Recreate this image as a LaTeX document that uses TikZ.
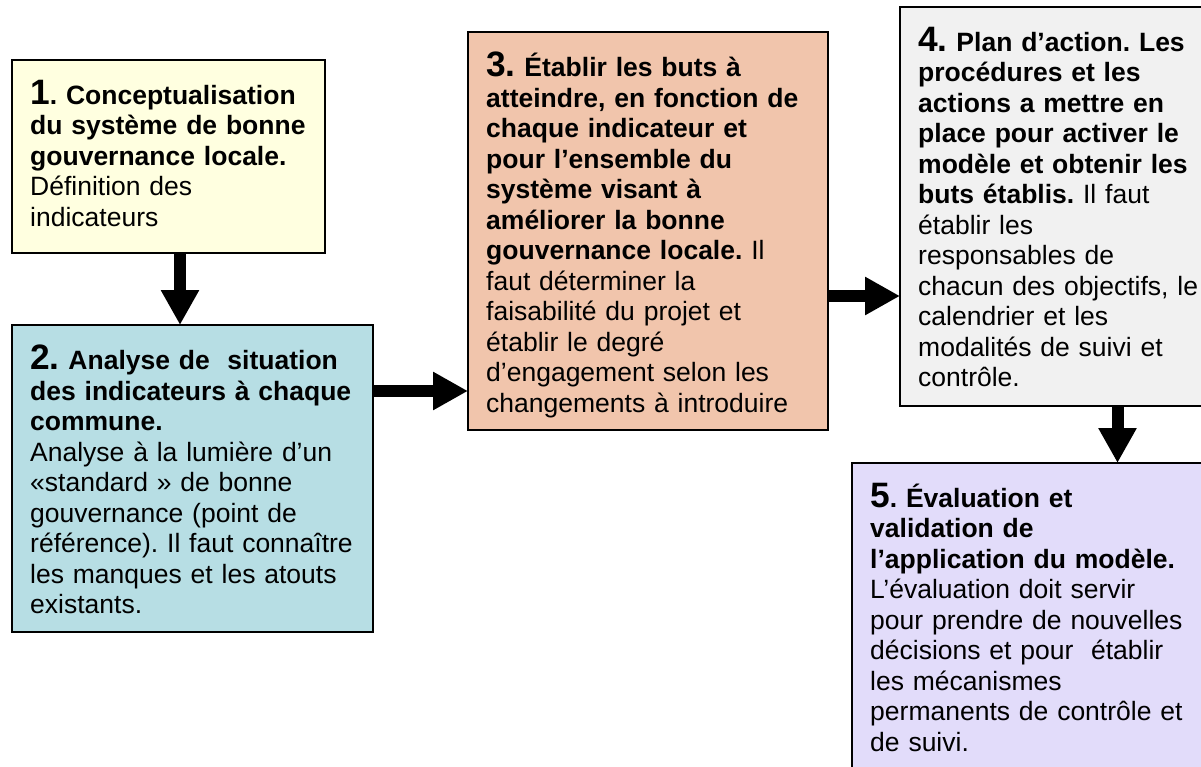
\documentclass[tikz,border=0pt]{standalone}
\usepackage{fontspec}
\setmainfont{Liberation Sans}
\usetikzlibrary{arrows.meta}
\frenchspacing
\definecolor{yellowbox}{RGB}{255,255,224}
\definecolor{tealbox}{RGB}{183,222,228}
\definecolor{salmonbox}{RGB}{241,197,172}
\definecolor{greybox}{RGB}{241,241,241}
\definecolor{lilacbox}{RGB}{226,220,250}
\newcommand{\bodyfont}{\fontsize{26.5}{30.5}\selectfont\frenchspacing}
\newcommand{\bignum}[1]{{\fontsize{35.3}{40.6}\selectfont #1}}
\tikzstyle{block} = [rectangle, 
draw=black, 
line width=1.8pt, 
anchor=north west, 
inner sep=0pt, 
outer sep=0pt]
\tikzstyle{txt} = [anchor=north west, 
align=left, 
inner xsep=18pt, 
inner ysep=19.7pt, 
font=\bodyfont]
\tikzstyle{arrow} = [line width=12pt, -{Triangle[width=36pt, length=35pt]}]
\begin{document}
\begin{tikzpicture}[x=1pt, y=-1pt]
		\clip (0,0) rectangle (1201,767);
		\node (concept) [block, fill=yellowbox, minimum width=313pt, minimum height=193pt] at (12,60) {};
		\node (analyse) [block, fill=tealbox, minimum width=361pt, minimum height=307pt] at (12,325) {};
		\node (buts) [block, fill=salmonbox, minimum width=360pt, minimum height=398pt] at (468,32) {};
		\node (plan) [block, fill=greybox, minimum width=320pt, minimum height=399pt] at (900,7) {};
		\node (eval) [block, fill=lilacbox, minimum width=370pt, minimum height=330pt] at (852,463) {};
	
		\node (concepttxt) [txt, text width=290pt] at (concept.north west) {\textbf{\bignum{1}. Conceptualisation}\\
			\textbf{du système de bonne}\\
			\textbf{gouvernance locale.}\\
			Définition des\\
			indicateurs};
		\node (analysetxt) [txt, text width=340pt] at (analyse.north west) {\textbf{\bignum{2.} Analyse de~ situation}\\
			\textbf{des indicateurs à chaque}\\
			\textbf{commune.}\\
			Analyse à la lumière d’un\\
			«standard » de bonne\\
			gouvernance (point de\\
			référence). Il faut connaître\\
			les manques et les atouts\\
			existants.};
		\node (butstxt) [txt, text width=340pt] at (buts.north west) {\textbf{\bignum{3.} Établir les buts à}\\
			\textbf{atteindre, en fonction de}\\
			\textbf{chaque indicateur et}\\
			\textbf{pour l’ensemble du}\\
			\textbf{système visant à}\\
			\textbf{améliorer la bonne}\\
			\textbf{gouvernance locale.} Il\\
			faut déterminer la\\
			faisabilité du projet et\\
			établir le degré\\
			d’engagement selon les\\
			changements à introduire};
		\node (plantxt) [txt, text width=300pt] at (plan.north west) {\textbf{\bignum{4.} Plan d’action. Les}\\
			\textbf{procédures et les}\\
			\textbf{actions a mettre en}\\
			\textbf{place pour activer le}\\
			\textbf{modèle et obtenir les}\\
			\textbf{buts établis.} Il faut\\
			établir les\\
			responsables de\\
			chacun des objectifs, le\\
			calendrier et les\\
			modalités de suivi et\\
			contrôle.};
		\node (evaltxt) [txt, text width=340pt] at (eval.north west) {\textbf{\bignum{5}. Évaluation et}\\
			\textbf{validation de}\\
			\textbf{l’application du modèle.}\\
			L’évaluation doit servir\\
			pour prendre de nouvelles\\
			décisions et pour~ établir\\
			les mécanismes\\
			permanents de contrôle et\\
			de suivi.};
	
		\coordinate (a12) at (180,0);
		\coordinate (a23) at (0,391);
		\coordinate (a34) at (0,296);
		\coordinate (a45) at (1117.5,0);
		\draw [arrow] (concept.south -| a12) -- (analyse.north -| a12);
		\draw [arrow] (analyse.east |- a23) -- (buts.west |- a23);
		\draw [arrow] (buts.east |- a34) -- (plan.west |- a34);
		\draw [arrow] (plan.south -| a45) -- (eval.north -| a45);
	\end{tikzpicture}
\end{document}
